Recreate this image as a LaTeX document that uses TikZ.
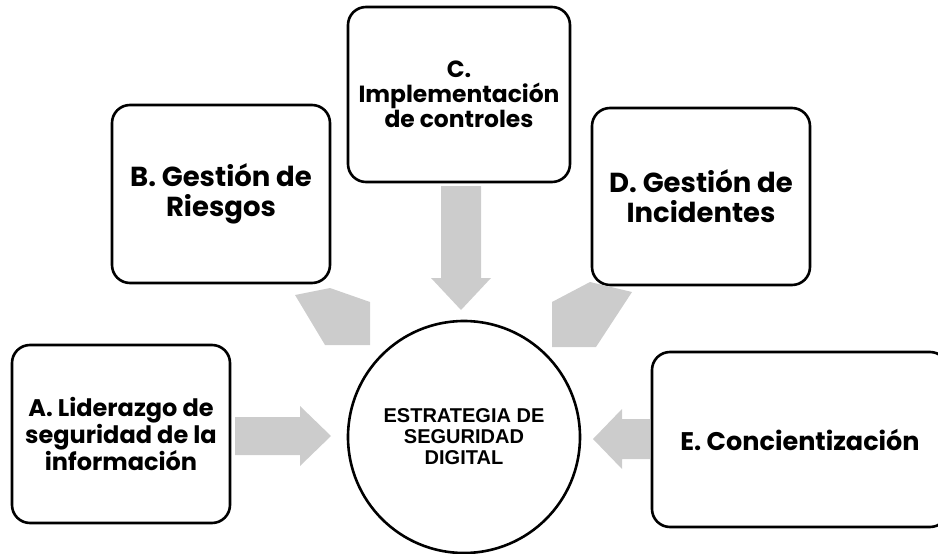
\documentclass[tikz,border=0pt]{standalone}
\usepackage{fontspec}
\setmainfont{Poppins}
\newfontfamily\arialfont{Liberation Sans}
\begin{document}
\begin{tikzpicture}[x=1pt,y=-1pt,
  box/.style={draw, line width=2.6pt, rounded corners=18pt, inner sep=0pt, align=center},
  bigtxt/.style={font=\bfseries\fontsize{27.5}{30}\selectfont},
  smalltxt/.style={font=\bfseries\fontsize{24}{24.5}\selectfont},
  blockarrow/.style={fill=black!20, draw=none}]
\useasboundingbox (0,0) rectangle (938,554);
\clip (0,0) rectangle (938,554);

\node[box, smalltxt, minimum width=218pt, minimum height=178pt] (A) at (121,434) {A. Liderazgo de\\seguridad de la\\información};
\node[box, bigtxt, minimum width=218pt, minimum height=178pt] (B) at (221,194) {B. Gestión de\\Riesgos};
\node[box, font=\bfseries\fontsize{23.4}{25}\selectfont, minimum width=222pt, minimum height=175pt] (C) at (459,94.5) {C.\\Implementación\\de controles};
\node[box, bigtxt, minimum width=218pt, minimum height=177pt] (D) at (701,196.5) {D. Gestión de\\Incidentes};
\node[box, font=\bfseries\fontsize{25.5}{28}\selectfont, minimum width=296pt, minimum height=175pt] (E) at (800,439.5) {E. Concientización};

\node[circle, draw, line width=2.6pt, minimum size=232pt, inner sep=0pt, align=center,
  font=\arialfont\bfseries\fontsize{20}{21}\selectfont] (S) at (464,437) {ESTRATEGIA DE\\SEGURIDAD\\DIGITAL};

% A -> S
\fill[blockarrow] (235,417) -- (300,417) -- (300,406) -- (331,436) -- (300,466) -- (300,455) -- (235,455) -- cycle;
% E -> S
\fill[blockarrow] (650,419) -- (622,419) -- (622,409) -- (593,439) -- (622,469) -- (622,459) -- (650,459) -- cycle;
% C -> S
\fill[blockarrow] (441,186) -- (481,186) -- (481,278) -- (491,278) -- (461,310) -- (431,278) -- (441,278) -- cycle;
% B -> S (clipped)
\fill[blockarrow] (295,295) -- (330,288) -- (370,302) -- (370,345) -- (325,345) -- cycle;
% D -> S (clipped)
\fill[blockarrow] (552,302) -- (590,282) -- (632,292) -- (596,347) -- (552,347) -- cycle;
\end{tikzpicture}
\end{document}
